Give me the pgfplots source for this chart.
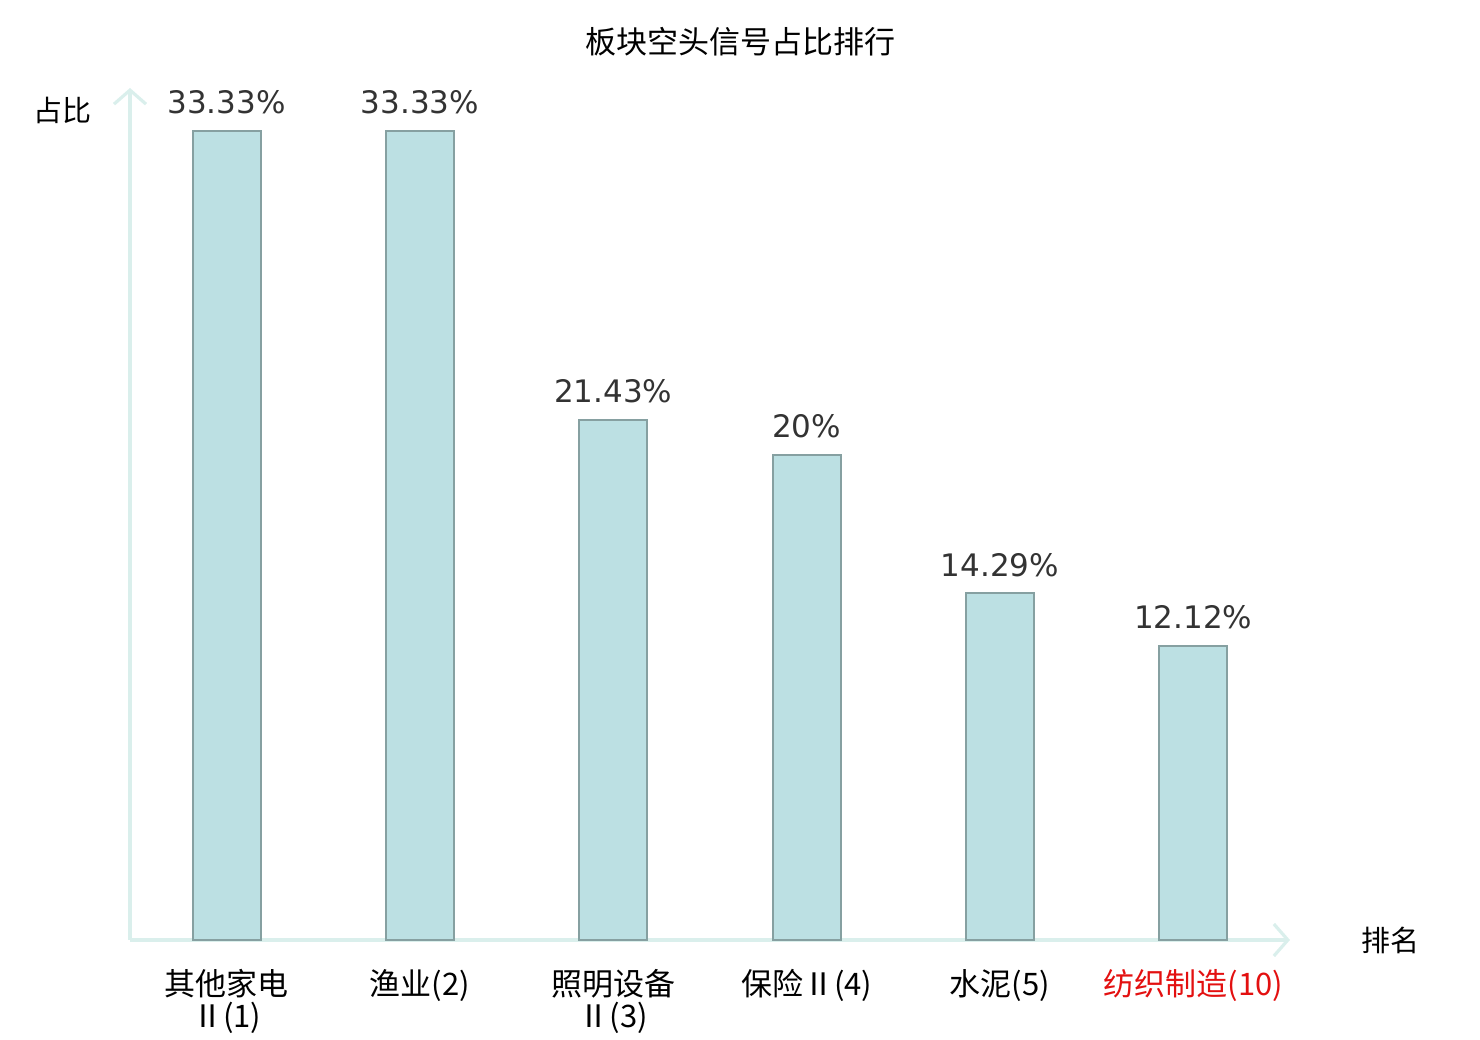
\documentclass[border=0pt]{standalone}
\usepackage{pgfplots}
\pgfplotsset{compat=1.18}
\usepackage{fontspec}
\setmainfont{DejaVu Sans}
\newfontfamily\cjk{Noto Sans CJK SC}
\usetikzlibrary{arrows.meta}
\definecolor{barfill}{HTML}{BCE0E3}
\definecolor{baredge}{HTML}{86A0A1}
\definecolor{axcol}{HTML}{DAEFEC}
\definecolor{valtxt}{HTML}{333333}
\definecolor{redlab}{HTML}{E31010}
\begin{document}
\begin{tikzpicture}
\begin{axis}[
  at={(65pt,50pt)}, anchor=south west,
  scale only axis, width=580pt, height=426pt,
  xmin=-0.5, xmax=5.5, ymin=0, ymax=35.1,
  axis lines=left,
  axis line style={draw=axcol, line width=1.6pt, -{Straight Barb[length=7pt,width=16pt,line width=1.6pt]}},
  xtick=data,
  xticklabels={{其他家电\\Ⅱ(1)},{渔业(2)},{照明设备\\Ⅱ(3)},{保险Ⅱ(4)},{水泥(5)},{\textcolor{redlab}{纺织制造(10)}}},
  xticklabel style={anchor=north, align=center, inner sep=0pt, yshift=-14.5pt, font=\cjk\fontsize{15.5}{16}\selectfont},
  major tick length=0pt,
  ytick=\empty,
  clip=false,
  ybar, bar width=34pt,
  point meta=explicit symbolic,
  nodes near coords,
  every node near coord/.append style={anchor=base, yshift=8.5pt, inner sep=0pt, text=valtxt, font=\fontsize{15.5}{18}\selectfont},
  title={\cjk 板块空头信号占比排行},
  title style={at={(axis description cs:0.526,1.040)}, anchor=center, font=\fontsize{15.5}{18}\selectfont},
  xlabel={\cjk 排名},
  xlabel style={at={(axis description cs:1.087,0)}, anchor=center, font=\fontsize{14.5}{16}\selectfont},
  ylabel={\cjk 占比},
  ylabel style={at={(axis description cs:-0.058,0.974)}, anchor=center, rotate=-90, font=\fontsize{14.5}{16}\selectfont},
]
\addplot[fill=barfill, draw=baredge, line width=1pt] coordinates {
  (0,33.33) [33.33\%]
  (1,33.33) [33.33\%]
  (2,21.43) [21.43\%]
  (3,20) [20\%]
  (4,14.29) [14.29\%]
  (5,12.12) [12.12\%]
};
\end{axis}
\pgfresetboundingbox
\path[use as bounding box] (0,0) rectangle (740pt,520pt);
\end{tikzpicture}
\end{document}
